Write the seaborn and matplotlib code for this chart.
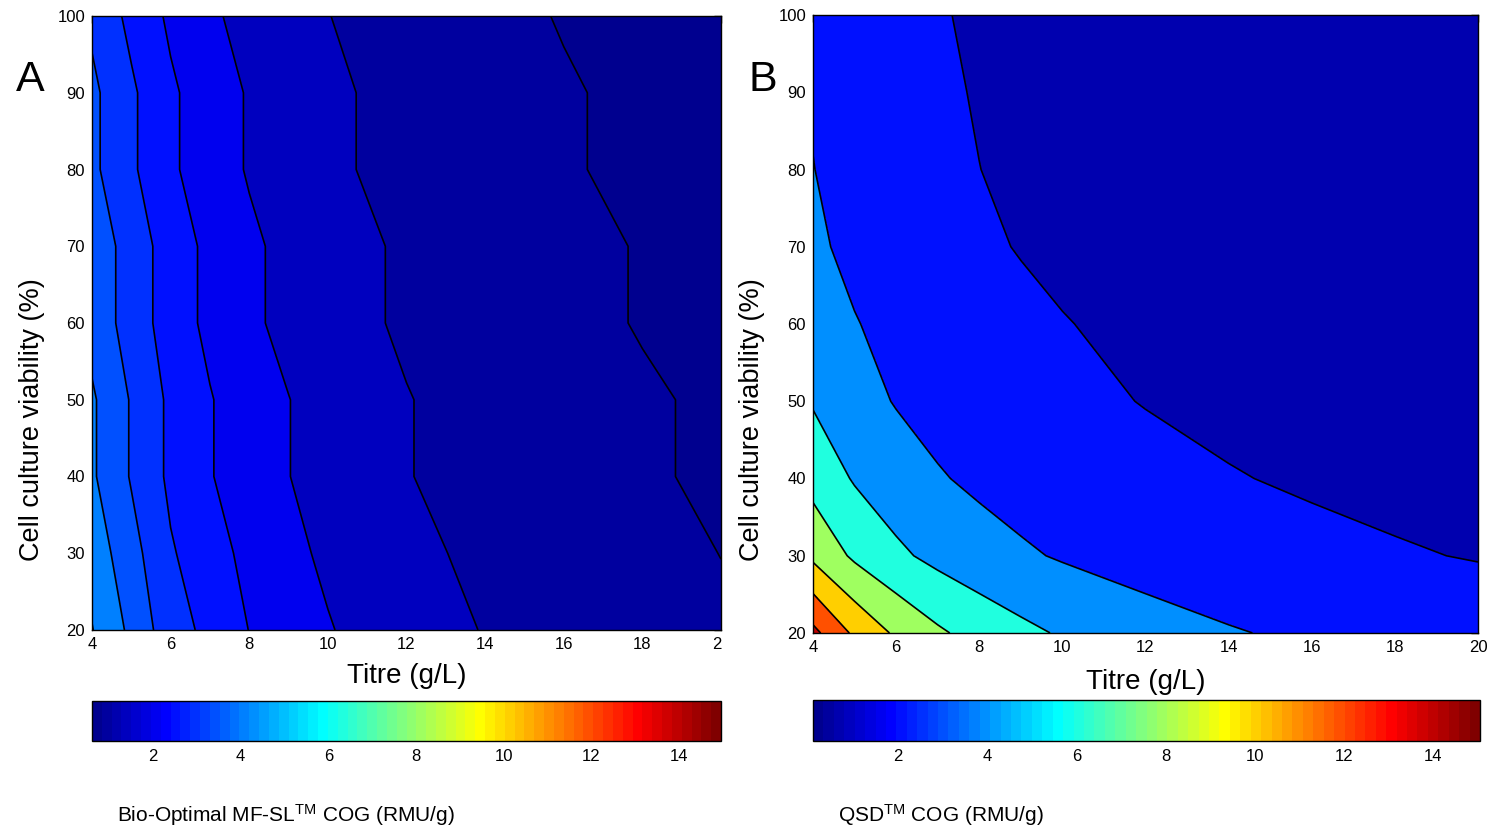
import numpy as np
import matplotlib
matplotlib.use("Agg")
import matplotlib.pyplot as plt
import seaborn as sns
from matplotlib.colors import Normalize, ListedColormap
from matplotlib.transforms import Bbox, TransformedBbox
import matplotlib.cm as cm

# ---------------- data ----------------
titre = [4, 5, 6, 7, 8, 9, 10, 12, 14, 16, 18, 20]          # g/L
viability = [20, 30, 40, 50, 60, 70, 80, 90, 100]           # %

# Panel A: Bio-Optimal MF-SL COG (RMU/g), one row per viability
cog_a_v20 = [4.52, 3.89, 3.20, 2.88, 2.49, 2.21, 2.03, 1.70, 1.48, 1.32, 1.19, 1.06]
cog_a_v30 = [4.30, 3.68, 3.05, 2.71, 2.36, 2.11, 1.92, 1.61, 1.40, 1.24, 1.12, 0.995]
cog_a_v40 = [4.07, 3.46, 2.90, 2.53, 2.23, 2.01, 1.80, 1.52, 1.31, 1.16, 1.04, 0.945]
cog_a_v50 = [4.07, 3.46, 2.90, 2.53, 2.23, 2.01, 1.80, 1.52, 1.31, 1.16, 1.04, 0.945]
cog_a_v60 = [3.82, 3.29, 2.76, 2.38, 2.09, 1.87, 1.69, 1.43, 1.24, 1.09, 0.98, 0.89]
cog_a_v70 = [3.82, 3.29, 2.76, 2.38, 2.09, 1.87, 1.69, 1.43, 1.24, 1.09, 0.98, 0.89]
cog_a_v80 = [3.61, 3.08, 2.58, 2.23, 1.96, 1.75, 1.59, 1.34, 1.16, 1.03, 0.93, 0.84]
cog_a_v90 = [3.61, 3.08, 2.58, 2.23, 1.96, 1.75, 1.59, 1.34, 1.16, 1.03, 0.93, 0.84]
cog_a_v100 = [3.40, 2.87, 2.41, 2.08, 1.84, 1.65, 1.51, 1.26, 1.10, 0.98, 0.88, 0.80]

# Panel B: QSD COG (RMU/g)
cog_b_v20 = [14.53, 11.63, 9.69, 8.30, 7.27, 6.46, 5.81, 4.84, 4.15, 3.63, 3.23, 2.91]
cog_b_v30 = [9.58, 7.66, 6.39, 5.47, 4.79, 4.26, 3.83, 3.19, 2.74, 2.39, 2.13, 1.92]
cog_b_v40 = [7.29, 5.83, 4.86, 4.16, 3.64, 3.24, 2.91, 2.43, 2.08, 1.82, 1.62, 1.46]
cog_b_v50 = [5.84, 4.67, 3.90, 3.34, 2.92, 2.60, 2.34, 1.95, 1.67, 1.46, 1.30, 1.17]
cog_b_v60 = [5.13, 4.10, 3.42, 2.93, 2.57, 2.28, 2.05, 1.71, 1.47, 1.28, 1.14, 1.03]
cog_b_v70 = [4.37, 3.50, 2.91, 2.50, 2.19, 1.94, 1.75, 1.46, 1.25, 1.09, 0.97, 0.87]
cog_b_v80 = [4.04, 3.21, 2.68, 2.29, 2.01, 1.78, 1.61, 1.34, 1.15, 1.00, 0.89, 0.80]
cog_b_v90 = [3.83, 3.06, 2.55, 2.19, 1.92, 1.70, 1.53, 1.28, 1.09, 0.96, 0.85, 0.77]
cog_b_v100 = [3.67, 2.93, 2.44, 2.09, 1.83, 1.63, 1.47, 1.22, 1.05, 0.92, 0.81, 0.73]

levels_a = [1.0, 1.5, 2.0, 2.5, 3.0, 3.5, 4.0, 4.5]
levels_b = [2, 4, 6, 8, 10, 12, 14]
clim_a = (0.61, 14.96)
clim_b = (0.094, 15.05)
cbar_ticks = [2, 4, 6, 8, 10, 12, 14]
xticks = [4, 6, 8, 10, 12, 14, 16, 18, 20]
yticks = [20, 30, 40, 50, 60, 70, 80, 90, 100]

# ---------------- style ----------------
sns.set_style("white")
plt.rcParams['font.family'] = ['Liberation Sans', 'DejaVu Sans']
plt.rcParams['mathtext.fontset'] = 'custom'
plt.rcParams['mathtext.rm'] = 'Liberation Sans'
plt.rcParams['mathtext.it'] = 'Liberation Sans:italic'
plt.rcParams['text.color'] = 'black'
plt.rcParams['axes.labelcolor'] = 'black'
plt.rcParams['xtick.color'] = 'black'
plt.rcParams['ytick.color'] = 'black'


# MATLAB-style 64-step jet colour table
def matlab_jet(m=64):
    n = int(np.ceil(m / 4))
    u = np.concatenate([np.arange(1, n + 1) / n, np.ones(n - 1), np.arange(n, 0, -1) / n])
    g = int(np.ceil(n / 2)) - (1 if m % 4 == 1 else 0) + np.arange(1, len(u) + 1)
    r = g + n
    b = g - n
    J = np.zeros((m, 3))
    for idx_arr, ch in ((r, 0), (g, 1), (b, 2)):
        ok = (idx_arr >= 1) & (idx_arr <= m)
        J[idx_arr[ok] - 1, ch] = u[ok]
    return ListedColormap(J)


W, H = 1494, 833
fig = plt.figure(figsize=(W / 100, H / 100), dpi=100)


def fr(l, t, r, b):
    return [l / W, 1 - b / H, (r - l) / W, (b - t) / H]


axA = fig.add_axes(fr(92, 16, 721, 630))
axB = fig.add_axes(fr(813, 15, 1478, 633))
caxA = fig.add_axes(fr(92, 701, 721, 741))
caxB = fig.add_axes(fr(813, 700, 1480, 741))

cmap = matlab_jet(64)
X, Y = np.meshgrid(titre, viability)
ZA = np.array([cog_a_v20, cog_a_v30, cog_a_v40, cog_a_v50, cog_a_v60,
               cog_a_v70, cog_a_v80, cog_a_v90, cog_a_v100])
ZB = np.array([cog_b_v20, cog_b_v30, cog_b_v40, cog_b_v50, cog_b_v60,
               cog_b_v70, cog_b_v80, cog_b_v90, cog_b_v100])


def panel(ax, cax, Z, levels, clim, xlab_y, ylab_x, ylab_y):
    norm = Normalize(*clim)
    bounds = [float(Z.min())] + list(levels) + [float(max(Z.max(), levels[-1])) + 1.0]
    colors = [cmap(norm(v)) for v in bounds[:-1]]
    ax.contourf(X, Y, Z, levels=bounds, colors=colors, antialiased=False)
    ax.contour(X, Y, Z, levels=levels, colors='k', linewidths=1.2)
    ax.set_xlim(4, 20)
    ax.set_ylim(20, 100)
    ax.set_xticks(xticks)
    ax.set_yticks(yticks)
    ax.tick_params(direction='in', top=True, right=True, length=5, width=1,
                   labelsize=12, colors='black', pad=5)
    for s in ax.spines.values():
        s.set_color('black')
        s.set_linewidth(1.0)
    ax.set_xlabel("Titre (g/L)", fontsize=20)
    ax.set_ylabel("Cell culture viability (%)", fontsize=19.5)
    ax.xaxis.set_label_coords(0.5, xlab_y)
    ax.xaxis.label.set_va('center')
    ax.yaxis.set_label_coords(ylab_x, ylab_y)
    ax.yaxis.label.set_va('center')

    sm = cm.ScalarMappable(norm=norm, cmap=cmap)
    cb = fig.colorbar(sm, cax=cax, orientation='horizontal', ticks=cbar_ticks)
    cb.outline.set_linewidth(1.0)
    cb.outline.set_edgecolor('black')
    cax.tick_params(direction='in', top=True, bottom=True, length=5, width=1,
                    labelsize=12, colors='black', pad=6)


panel(axA, caxA, ZA, levels_a, clim_a, -0.075, -0.095, 0.342)
panel(axB, caxB, ZB, levels_b, clim_b, -0.079, -0.092, 0.345)

# The reference crops the last x tick label of panel A at the plot edge
last = axA.xaxis.get_major_ticks()[-1].label1
last.set_clip_box(TransformedBbox(Bbox.from_extents(0, 0, 722 / W, 1), fig.transFigure))
last.set_clip_on(True)

fig.text(30 / W, 1 - 80 / H, "A", fontsize=31, ha='center', va='center', color='black')
fig.text(763 / W, 1 - 80 / H, "B", fontsize=31, ha='center', va='center', color='black')

fig.text(117 / W, 1 - 815 / H, r"Bio-Optimal MF-SL$^{\mathrm{TM}}$ COG (RMU/g)",
         fontsize=15, ha='left', va='center', color='black')
fig.text(838 / W, 1 - 815 / H, r"QSD$^{\mathrm{TM}}$ COG (RMU/g)",
         fontsize=15, ha='left', va='center', color='black')

fig.savefig("out.png", dpi=100, facecolor='white')
